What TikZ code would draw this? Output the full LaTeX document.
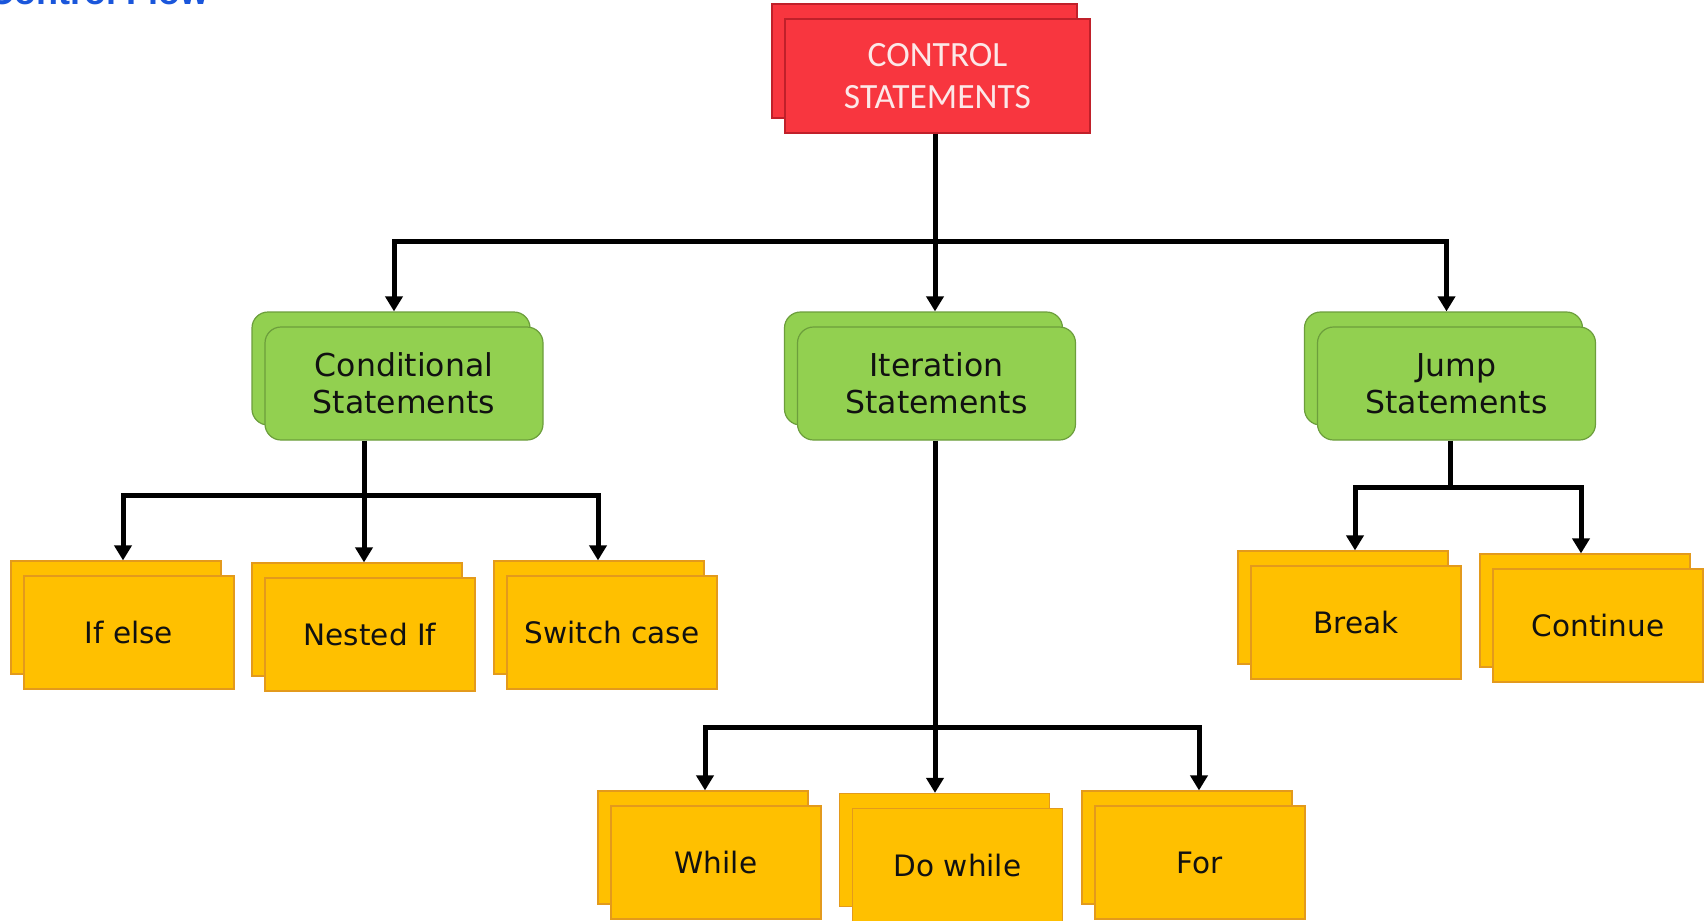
\documentclass[tikz,border=0pt]{standalone}
\usepackage{fontspec}
\setmainfont{DejaVu Sans}
\newfontfamily\calib{Carlito}
\newfontfamily\titlef{Liberation Sans}
\usetikzlibrary{arrows.meta}
\definecolor{redfill}{HTML}{F8363F}
\definecolor{redline}{HTML}{C0202A}
\definecolor{redtext}{HTML}{FCE8E8}
\definecolor{greenfill}{HTML}{92D050}
\definecolor{greenline}{HTML}{6C9E3C}
\definecolor{yelfill}{HTML}{FFC000}
\definecolor{yelline}{HTML}{E39A1C}
\definecolor{titleblue}{HTML}{1A56DB}
\definecolor{inkblack}{HTML}{111111}
\newcommand\dblbox[5]{%
  \node[#1] (#2b) at ({#3-13},{#4-15}) {};
  \node[#1] (#2) at (#3,#4) {#5};}
\begin{document}
\begin{tikzpicture}[x=1pt,y=-1pt,
  redbox/.style={draw=redline, line width=1.2pt, fill=redfill, minimum width=305pt, minimum height=114pt, inner sep=0pt, align=center, text=redtext, font=\calib\fontsize{35.5}{42}\selectfont},
  greenbox/.style={draw=greenline, line width=1.2pt, fill=greenfill, rounded corners=16pt, minimum width=278pt, minimum height=113pt, inner sep=0pt, align=center, text=inkblack, font=\fontsize{31.5}{37}\selectfont},
  yelbox/.style={draw=yelline, line width=1.2pt, fill=yelfill, minimum width=210pt, minimum height=113pt, inner sep=0pt, text=inkblack, font=\fontsize{29.5}{34}\selectfont},
  wire/.style={line width=5pt},
  arr/.style={line width=5pt, -{Triangle[length=15pt,width=17pt]}}]
\useasboundingbox (0,0) rectangle (1706,921);
\clip (0,0) rectangle (1706,921);
\fill[white] (0,0) rectangle (1706,921);

\node[anchor=base west, text=titleblue, inner sep=0pt, font=\titlef\bfseries\fontsize{36}{40}\selectfont] (title) at (-12,4) {Control Flow};

\dblbox{redbox}{ctrl}{937.5}{76}{CONTROL\\STATEMENTS}

\dblbox{greenbox}{cond}{404}{383.5}{Conditional\\Statements}
\dblbox{greenbox}{iter}{936.5}{383.5}{Iteration\\Statements}
\dblbox{greenbox}{jump}{1456.5}{383.5}{Jump\\Statements}

\dblbox{yelbox}{ifelse}{129}{632.5}{If else}
\dblbox{yelbox}{nested}{370}{634.5}{Nested If}
\dblbox{yelbox}{switch}{612}{632.5}{Switch case}

\dblbox{yelbox}{brk}{1356}{622.5}{Break}
\dblbox{yelbox}{cont}{1598}{625.5}{Continue}

\dblbox{yelbox}{while}{716}{862.5}{While}
\dblbox{yelbox}{dowhile}{957.5}{865}{Do while}
\dblbox{yelbox}{for}{1200}{862.5}{For}

% top level
\coordinate (j1) at (935,241);
\draw[wire] (j1 |- ctrl.south) -- (j1);
\draw[arr] (j1) -| ([xshift=3pt]condb.north);
\draw[arr] (j1) -- (j1 |- iterb.north);
\draw[arr] (j1) -| ([xshift=3pt]jumpb.north);

% conditional
\coordinate (c1) at (364,495);
\draw[wire] (c1 |- cond.south) -- (c1);
\draw[arr] (c1) -| ([xshift=7pt]ifelseb.north);
\draw[arr] (c1) -- (c1 |- nestedb.north);
\draw[arr] (c1) -| ([xshift=-1pt]switchb.north);

% iteration
\coordinate (i1) at (935,727);
\draw[wire] (i1 |- iter.south) -- (i1);
\draw[arr] (i1) -| ([xshift=2pt]whileb.north);
\draw[arr] (i1) -- (i1 |- dowhileb.north);
\draw[arr] (i1) -| ([xshift=12pt]forb.north);

% jump
\coordinate (k1) at (1450,487);
\draw[wire] (k1 |- jump.south) -- (k1);
\draw[arr] (k1) -| ([xshift=12pt]brkb.north);
\draw[arr] (k1) -| ([xshift=-4pt]contb.north);
\end{tikzpicture}
\end{document}
